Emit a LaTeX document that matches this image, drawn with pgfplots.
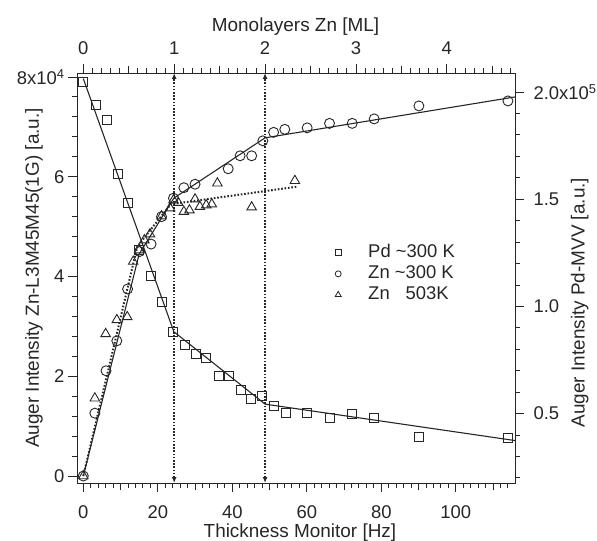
\documentclass[border=0pt]{standalone}
\usepackage{fontspec}
\setmainfont{Liberation Sans}
\usepackage{pgfplots}
\pgfplotsset{compat=1.18}
\usetikzlibrary{arrows.meta}
\definecolor{ink}{HTML}{262626}

\pgfplotstableread{
x y
0 0
3.1 1.26
6.1 2.11
9.0 2.71
11.9 3.75
15.1 4.50
18.2 4.65
21.0 5.20
24.2 5.57
27.0 5.78
30.0 5.85
38.9 6.16
42.1 6.42
45.2 6.42
48.2 6.72
51.1 6.89
54.1 6.95
60.1 6.98
66.1 7.07
72.2 7.07
78.1 7.16
90.1 7.42
114.0 7.52
}\znroom

\pgfplotstableread{
x y
0 0
3.1 1.56
6.0 2.85
9.0 3.13
11.8 3.19
13.4 4.30
15.0 4.53
16.4 4.73
17.9 4.85
21.0 5.21
23.3 5.37
24.2 5.53
25.5 5.48
27.0 5.30
28.5 5.33
30.0 5.55
31.3 5.40
33.0 5.43
34.5 5.45
36.0 5.87
45.2 5.39
56.8 5.92
}\znhot

\pgfplotstableread{
x y
0 2.045
3.3 1.940
6.3 1.870
9.4 1.619
12.1 1.481
15.0 1.263
18.2 1.143
21.2 1.022
24.2 0.882
27.3 0.820
30.2 0.776
32.9 0.758
36.3 0.675
39.1 0.675
42.2 0.610
45.1 0.566
48.0 0.583
51.3 0.535
54.3 0.501
60.0 0.501
66.1 0.478
72.2 0.496
78.1 0.478
90.1 0.392
114.0 0.384
}\pd

\begin{document}
\begin{tikzpicture}
\pgfplotsset{
  every axis/.append style={
    scale only axis, width=438bp, height=410bp,
    xmin=-1.69, xmax=115.9,
    axis line style={ink, line width=0.9bp},
    every tick/.style={ink, line width=0.9bp},
    major tick length=9bp, minor tick length=5bp,
    tick align=outside,
    tick label style={font=\fontsize{18.5}{22}\selectfont, text=ink},
    label style={font=\fontsize{19}{23}\selectfont, text=ink},
    /pgf/number format/assume math mode=true,
  },
  mk/.style={ink, line width=0.9bp, mark options={solid, fill=none, line width=0.9bp}},
}
% main axis: Zn (left) and thickness (bottom)
\begin{axis}[name=main,
  ymin=-0.14, ymax=8.08,
  xtick pos=bottom, ytick pos=left,
  xtick={0,20,40,60,80,100}, xticklabels={0,20,40,60,80,100},
  xticklabel style={yshift=-10bp},
  minor xtick={2,4,...,114},
  extra x ticks={10,30,50,70,90,110}, extra x tick labels={},
  extra x tick style={major tick length=7bp},
  ytick={0,2,4,6,8}, yticklabels={0,2,4,6,{8x10\textsuperscript{4}}},
  minor ytick={0,0.4,...,8},
  xlabel={Thickness Monitor [Hz]},
  ylabel={Auger Intensity Zn-L3M45M45(1G) [a.u.]},
  xlabel style={at={(axis description cs:0.509,-0.133)}, anchor=base},
  ylabel style={at={(axis description cs:-0.098,0.5)}, anchor=center},
  legend style={draw=none, fill=none, at={(rel axis cs:0.589,0.585)}, anchor=north west,
    font=\fontsize{18.5}{22}\selectfont, text=ink, inner sep=0pt, row sep=2bp,
    column sep=27bp, nodes={inner sep=0pt, text height=14bp, text depth=5bp, anchor=west}},
  legend cell align=left,
  clip=false,
]
\addlegendimage{only marks, mark=square, mark size=3bp, ink, mark options={solid, line width=0.8bp}}
\addlegendentry{Pd \textasciitilde300 K}
\addlegendimage{only marks, mark=o, mark size=3bp, ink, mark options={solid, line width=0.8bp}}
\addlegendentry{Zn \textasciitilde300 K}
\addlegendimage{only marks, mark=triangle, mark size=3.5bp, ink, mark options={solid, line width=0.8bp}}
\addlegendentry{Zn \phantom{\textasciitilde}503K}

\addplot[ink, line width=1.1bp, forget plot] coordinates {(0,0) (15.0,4.45) (24.3,5.57) (48.8,6.78) (115.9,7.6)};
\addplot[ink, line width=2bp, dash pattern=on 1.6bp off 1.8bp, forget plot] coordinates {(0,0) (14.5,4.6) (23.5,5.45) (57.3,5.80)};
\addplot[mk, only marks, mark=o, mark size=5bp, forget plot] table {\znroom};
\addplot[mk, only marks, mark=triangle, mark size=5.5bp, forget plot] table {\znhot};

\draw[ink, line width=2bp, dash pattern=on 1.6bp off 1.6bp, {Latex[length=6bp,width=5bp]}-{Latex[length=6bp,width=5bp]}]
  (axis cs:24.4,-0.14) -- (axis cs:24.4,8.08);
\draw[ink, line width=2bp, dash pattern=on 1.6bp off 1.6bp, {Latex[length=6bp,width=5bp]}-{Latex[length=6bp,width=5bp]}]
  (axis cs:48.8,-0.14) -- (axis cs:48.8,8.08);
\end{axis}

% Pd axis (right)
\begin{axis}[
  ymin=0.176, ymax=2.089,
  hide x axis, axis y line*=right,
  ytick={0.5,1.0,1.5,2.0}, yticklabels={0.5,1.0,1.5,{2.0x10\textsuperscript{5}}},
  yticklabel style={xshift=6bp},
  minor ytick={0.2,0.3,0.4,0.6,0.7,0.8,0.9,1.1,1.2,1.3,1.4,1.6,1.7,1.8,1.9},
  ylabel={Auger Intensity Pd-MVV [a.u.]},
  ylabel style={at={(axis description cs:1.148,0.44)}, anchor=center, rotate=0},
  clip=false,
]
\addplot[ink, line width=1.1bp] coordinates {(0,2.063) (24.3,0.882) (48.8,0.544) (115.9,0.374)};
\addplot[mk, only marks, mark=square, mark size=4.5bp] table {\pd};
\end{axis}

% Monolayer axis (top)
\begin{axis}[
  xmin=-0.0693, xmax=4.75, ymin=0, ymax=1,
  hide y axis, axis x line*=top,
  xtick={0,1,2,3,4}, xticklabels={0,1,2,3,4},
  xticklabel style={yshift=6bp},
  minor xtick={0.1,0.2,0.3,0.4,0.6,0.7,0.8,0.9,1.1,1.2,1.3,1.4,1.6,1.7,1.8,1.9,2.1,2.2,2.3,2.4,2.6,2.7,2.8,2.9,3.1,3.2,3.3,3.4,3.6,3.7,3.8,3.9,4.1,4.2,4.3,4.4,4.6,4.7},
  extra x ticks={0.5,1.5,2.5,3.5,4.5}, extra x tick labels={},
  extra x tick style={major tick length=7bp},
  xlabel={Monolayers Zn [ML]},
  xlabel style={at={(axis description cs:0.499,1.1007)}, anchor=base},
]
\end{axis}

\pgfresetboundingbox
\path[use as bounding box] ([shift={(-77bp,-58bp)}]main.south west) rectangle ([shift={(82bp,73bp)}]main.north east);
\end{tikzpicture}
\end{document}
